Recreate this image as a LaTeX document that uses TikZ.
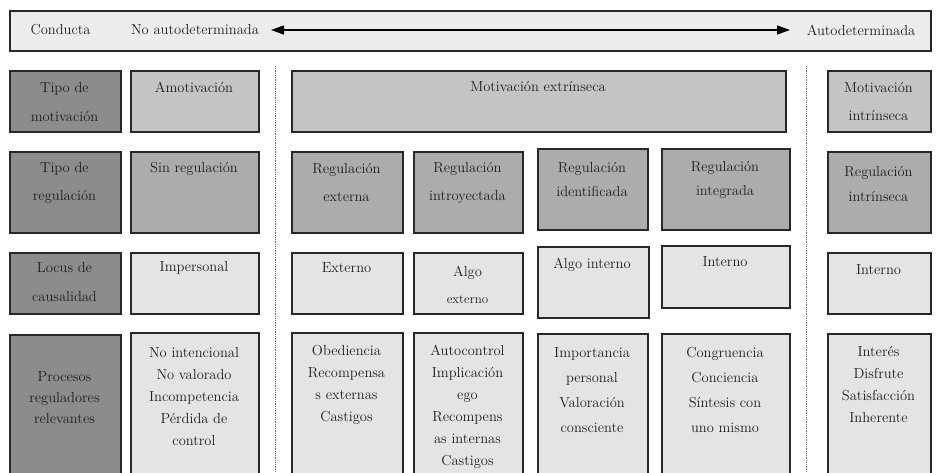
\documentclass[tikz,border=0pt]{standalone}
\usetikzlibrary{arrows.meta}
\definecolor{cdark}{RGB}{140,140,140}
\definecolor{cmidA}{RGB}{196,196,196}
\definecolor{cmidB}{RGB}{172,172,172}
\definecolor{clight}{RGB}{228,228,228}
\definecolor{cbanner}{RGB}{236,236,236}
\definecolor{cline}{RGB}{40,40,40}
\definecolor{ctext}{RGB}{30,30,30}
\begin{document}
\begin{tikzpicture}[x=1pt,y=-1pt,
  box/.style={draw=cline,line width=1.6pt,rectangle,inner sep=0pt,anchor=north west},
  txt/.style={text=ctext,align=center,inner sep=0pt,font=\fontsize{14.5}{22}\selectfont},
  sep/.style={draw=black!60,line width=1pt,dash pattern=on 0.8pt off 1pt}]
\useasboundingbox (0,0) rectangle (939,472);
\clip (0,0) rectangle (939,472);
% banner
\node[box,fill=cbanner,minimum width=921pt,minimum height=40pt] (banner) at (9,10) {};
\node[txt] (conducta) at (60.5,30) {Conducta};
\node[txt] (noauto) at (195,30) {No autodeterminada};
\node[txt] (auto) at (861,30) {Autodeterminada};
\coordinate (al) at (271,30);
\coordinate (ar) at (790,30);
\draw[line width=1.3pt,{Triangle[length=13pt,width=9pt]}-{Triangle[length=13pt,width=9pt]}] (al) -- (ar);
% separators
\coordinate (s1a) at (275,66); \coordinate (s1b) at (275,472);
\coordinate (s2a) at (806,66); \coordinate (s2b) at (806,472);
\draw[sep] (s1a) -- (s1b);
\draw[sep] (s2a) -- (s2b);
% row 1
\node[box,fill=cdark,minimum width=111pt,minimum height=61pt] (h1) at (9,70) {};
\node[txt,font=\fontsize{14.5}{29}\selectfont] (h1t) at (64.5,102.5) {Tipo de\\motivación};
\node[box,fill=cmidA,minimum width=128pt,minimum height=61pt] (a1) at (130,70) {};
\node[txt] (a1t) at (194,87) {Amotivación};
\node[box,fill=cmidA,minimum width=494pt,minimum height=61pt] (e1) at (291,70) {};
\node[txt] (e1t) at (538,87) {Motivación extrínseca};
\node[box,fill=cmidA,minimum width=103pt,minimum height=61pt] (i1) at (827,70) {};
\node[txt,font=\fontsize{14.5}{28}\selectfont] (i1t) at (878.5,102) {Motivación\\intrínseca};
% row 2
\node[box,fill=cdark,minimum width=111pt,minimum height=81pt] (h2) at (9,151) {};
\node[txt,font=\fontsize{14.5}{28}\selectfont] (h2t) at (64.5,183) {Tipo de\\regulación};
\node[box,fill=cmidB,minimum width=128pt,minimum height=81pt] (a2) at (130,151) {};
\node[txt] (a2t) at (194,169) {Sin regulación};
\node[box,fill=cmidB,minimum width=111pt,minimum height=81pt] (r1) at (291,151) {};
\node[txt,font=\fontsize{14.5}{28}\selectfont] (r1t) at (346.5,183) {Regulación\\externa};
\node[box,fill=cmidB,minimum width=109pt,minimum height=81pt] (r2) at (413,151) {};
\node[txt,font=\fontsize{14.5}{28}\selectfont] (r2t) at (467.5,183) {Regulación\\introyectada};
\node[box,fill=cmidB,minimum width=110pt,minimum height=81pt] (r3) at (537,148) {};
\node[txt,font=\fontsize{14.5}{24}\selectfont] (r3t) at (592,180) {Regulación\\identificada};
\node[box,fill=cmidB,minimum width=128pt,minimum height=81pt] (r4) at (661,148) {};
\node[txt,font=\fontsize{14.5}{24}\selectfont] (r4t) at (725,180) {Regulación\\integrada};
\node[box,fill=cmidB,minimum width=103pt,minimum height=81pt] (r5) at (827,151) {};
\node[txt,font=\fontsize{14.5}{25}\selectfont] (r5t) at (878.5,184.5) {Regulación\\intrínseca};
% row 3
\node[box,fill=cdark,minimum width=111pt,minimum height=61pt] (h3) at (9,252) {};
\node[txt,font=\fontsize{14.5}{29}\selectfont] (h3t) at (64.5,282.5) {Locus de\\causalidad};
\node[box,fill=clight,minimum width=128pt,minimum height=61pt] (l1) at (130,252) {};
\node[txt] (l1t) at (194,268) {Impersonal};
\node[box,fill=clight,minimum width=111pt,minimum height=61pt] (l2) at (291,252) {};
\node[txt] (l2t) at (346.5,268) {Externo};
\node[box,fill=clight,minimum width=109pt,minimum height=61pt] (l3) at (413,252) {};
\node[txt,font=\fontsize{14.5}{27}\selectfont] (l3t) at (467.5,284.5) {Algo\\{\fontsize{13}{27}\selectfont externo}};
\node[box,fill=clight,minimum width=111pt,minimum height=71pt] (l4) at (537,246) {};
\node[txt] (l4t) at (592,265) {Algo interno};
\node[box,fill=clight,minimum width=128pt,minimum height=62pt] (l5) at (661,245) {};
\node[txt] (l5t) at (725,262) {Interno};
\node[box,fill=clight,minimum width=103pt,minimum height=61pt] (l6) at (827,252) {};
\node[txt] (l6t) at (878.5,270) {Interno};
% row 4
\node[box,fill=cdark,minimum width=111pt,minimum height=160pt] (h4) at (9,334) {};
\node[txt,font=\fontsize{14.5}{21}\selectfont] (h4t) at (64.5,398) {Procesos\\reguladores\\relevantes};
\node[box,fill=clight,minimum width=128pt,minimum height=160pt] (p1) at (130,332) {};
\node[txt] (p1t) at (194,396.5) {No intencional\\No valorado\\Incompetencia\\Pérdida de\\control};
\node[box,fill=clight,minimum width=111pt,minimum height=160pt] (p2) at (291,332) {};
\node[txt] (p2t) at (346.5,385) {Obediencia\\Recompensa\\s externas\\Castigos};
\node[box,fill=clight,minimum width=109pt,minimum height=160pt] (p3) at (413,332) {};
\node[txt] (p3t) at (467.5,406.5) {Autocontrol\\Implicación\\ego\\Recompens\\as internas\\Castigos};
\node[box,fill=clight,minimum width=110pt,minimum height=160pt] (p4) at (537,333) {};
\node[txt,font=\fontsize{14.5}{25}\selectfont] (p4t) at (592,390) {Importancia\\personal\\Valoración\\consciente};
\node[box,fill=clight,minimum width=128pt,minimum height=160pt] (p5) at (661,333) {};
\node[txt,font=\fontsize{14.5}{25}\selectfont] (p5t) at (725,390) {Congruencia\\Conciencia\\Síntesis con\\uno mismo};
\node[box,fill=clight,minimum width=103pt,minimum height=160pt] (p6) at (827,333) {};
\node[txt] (p6t) at (878.5,385) {Interés\\Disfrute\\Satisfacción\\Inherente};
\end{tikzpicture}
\end{document}
